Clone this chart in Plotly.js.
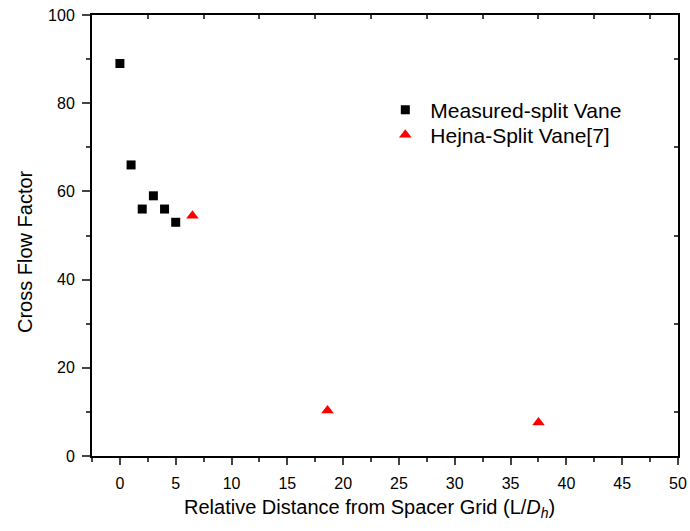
<!DOCTYPE html>
<html><head><meta charset="utf-8">
<script src="https://cdn.plot.ly/plotly-3.0.1.min.js"></script>
<style>body{margin:0;padding:0;background:#fff}</style>
</head><body>
<div id="chart" style="width:690px;height:531px"></div>
<script>
const measuredX = [0, 1, 2, 3, 4, 5];
const measuredY = [89, 66, 56, 59, 56, 53];
const hejnaX = [6.5, 18.6, 37.5];
const hejnaY = [54.5, 10.3, 7.6];
const seriesNames = ["Measured-split Vane", "Hejna-Split Vane[7]"];
const xTickVals = [0, 5, 10, 15, 20, 25, 30, 35, 40, 45, 50];
const yTickVals = [0, 20, 40, 60, 80, 100];
const xTitle = "Relative Distance from Spacer Grid (L/<i>D</i><sub><i>h</i></sub>)";
const yTitle = "Cross Flow Factor";

const font = "Liberation Sans, Arial, sans-serif";
const traces = [
  {x: measuredX, y: measuredY, type: "scatter", mode: "markers", name: seriesNames[0], legend: "legend",
   marker: {symbol: "square", size: 9, color: "#000000"}},
  {x: hejnaX, y: hejnaY, type: "scatter", mode: "markers", name: seriesNames[1], legend: "legend2",
   marker: {symbol: "triangle-up", size: 11, color: "#ff0000"}},
  {x: [null], y: [null], xaxis: "x2", yaxis: "y2", showlegend: false, hoverinfo: "skip"}
];
const legendBase = {x: 0.492, xanchor: "left", yanchor: "middle", bgcolor: "rgba(0,0,0,0)",
  font: {size: 21, family: font}, itemsizing: "trace", itemwidth: 40};
const layout = {
  width: 690, height: 531,
  margin: {l: 92, r: 12, t: 15, b: 75},
  paper_bgcolor: "#fff", plot_bgcolor: "#fff",
  font: {family: font, color: "#000"},
  showlegend: true,
  legend: Object.assign({}, legendBase, {y: 0.7846}),
  legend2: Object.assign({}, legendBase, {y: 0.7279}),
  xaxis: {range: [-2.5, 50], tickvals: xTickVals, ticks: "outside", ticklen: 7, tickwidth: 2,
          showline: true, linewidth: 2, linecolor: "#000", showgrid: false, zeroline: false,
          tickfont: {size: 16, family: font}, ticklabelstandoff: 5,
          minor: {tickvals: [-2.5, 2.5, 7.5, 12.5, 17.5, 22.5, 27.5, 32.5, 37.5, 42.5, 47.5], ticks: "outside", ticklen: 4, tickwidth: 2, showgrid: false}},
  yaxis: {range: [0, 100], tickvals: yTickVals, ticks: "outside", ticklen: 8, tickwidth: 2,
          showline: true, linewidth: 2, linecolor: "#000", showgrid: false, zeroline: false,
          tickfont: {size: 16, family: font}, ticklabelstandoff: 4,
          minor: {tickvals: [10, 30, 50, 70, 90], ticks: "outside", ticklen: 4, tickwidth: 2, showgrid: false}},
  xaxis2: {overlaying: "x", side: "top", range: [-2.5, 50], tickvals: [2.5, 7.5, 12.5, 17.5, 22.5, 27.5, 32.5, 37.5, 42.5, 47.5],
           ticks: "inside", ticklen: 4, tickwidth: 2, showticklabels: false, showline: true, linewidth: 2, linecolor: "#000",
           showgrid: false, zeroline: false, anchor: "y2"},
  yaxis2: {overlaying: "y", side: "right", range: [0, 100], tickvals: [10, 30, 50, 70, 90],
           ticks: "inside", ticklen: 4, tickwidth: 2, showticklabels: false, showline: true, linewidth: 2, linecolor: "#000",
           showgrid: false, zeroline: false, anchor: "x2"},
  annotations: [
    {text: xTitle, xref: "paper", yref: "paper", x: 0.4744, y: -0.12, xanchor: "center", yanchor: "middle",
     showarrow: false, font: {size: 20, family: font}},
    {text: yTitle, xref: "paper", yref: "paper", x: -0.1143, y: 0.4626, xanchor: "center", yanchor: "middle",
     textangle: -90, showarrow: false, font: {size: 20, family: font}}
  ]
};
Plotly.newPlot("chart", traces, layout, {displayModeBar: false, staticPlot: true});
</script>
</body></html>
